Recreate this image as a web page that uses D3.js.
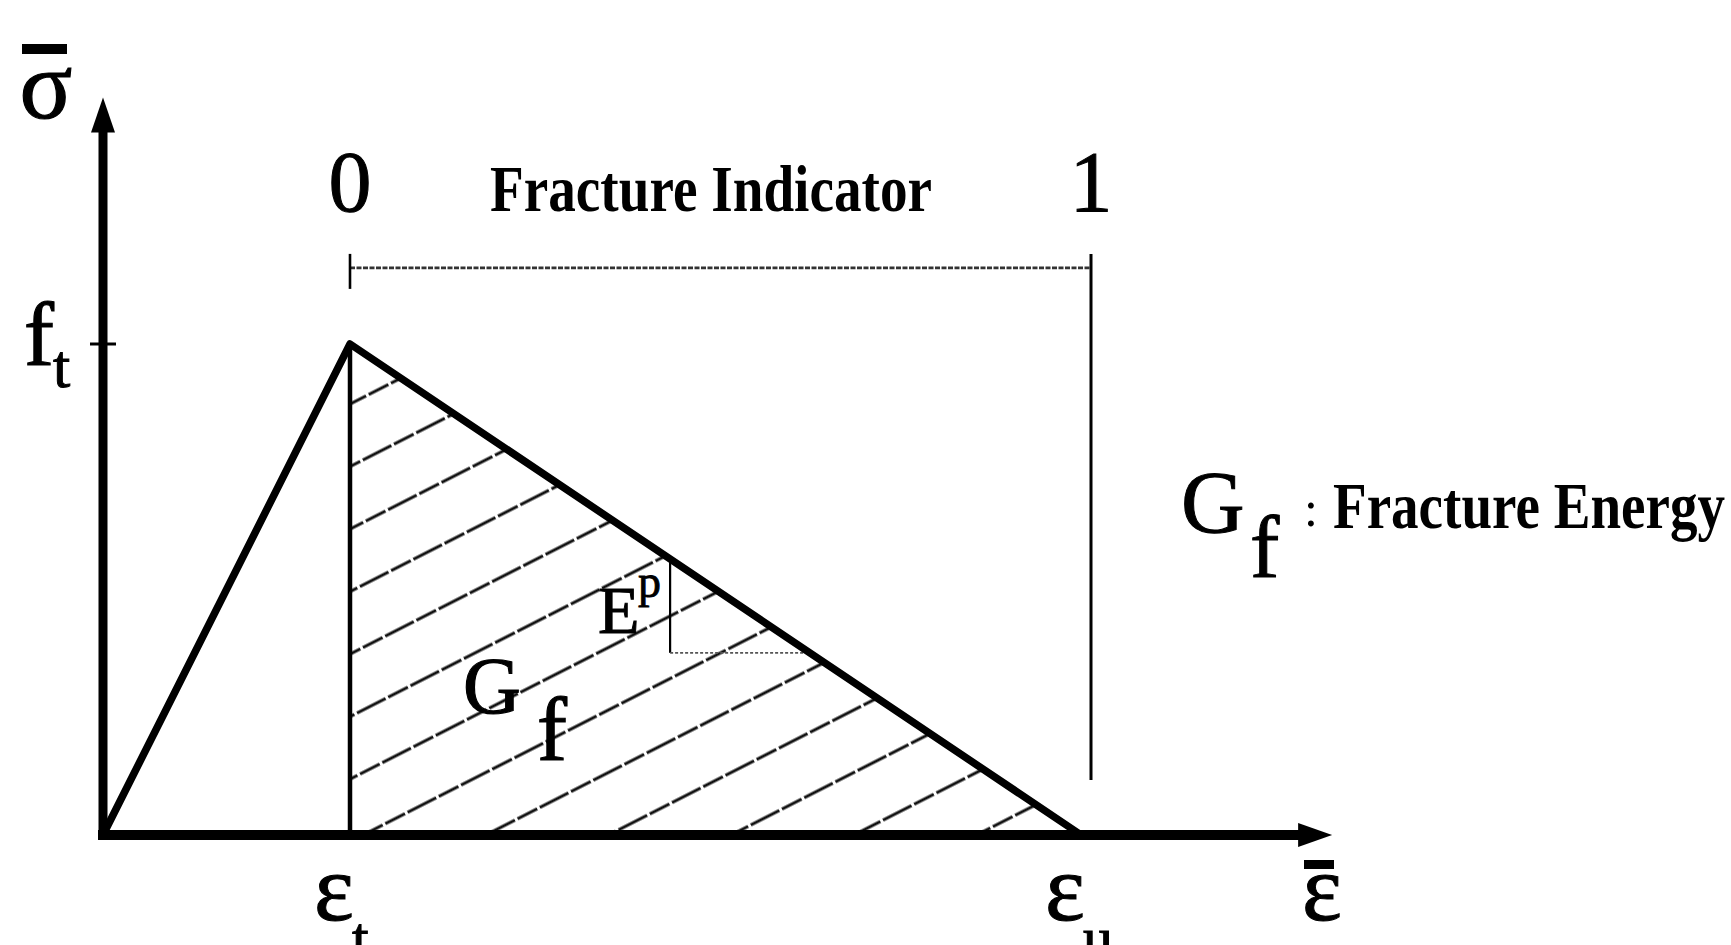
<!DOCTYPE html>
<html><head><meta charset="utf-8">
<script src="https://cdn.jsdelivr.net/npm/d3@7/dist/d3.min.js"></script>
<style>
html,body{margin:0;padding:0;background:#fff;}
svg{display:block;}
text{font-family:"Liberation Serif","Times New Roman",serif;fill:#000;}
</style></head>
<body>
<svg id="chart" width="1731" height="945"></svg>
<script>
// ---- data (strain in units of eps_t, stress in units of f_t) ----
const curveStrain = [0, 1, 3.96];       // origin, eps_t, eps_u
const curveStress = [0, 1, 0];          // 0, f_t, 0
const axisMax = [4.96, 1.5];            // x-axis end (strain), y-axis end (stress)
const yTickValues = [1];
const yTickLabels = ["f"];
const yTickSubs = ["t"];
const xTickValues = [1, 3.96];
const xTickLabels = ["ε", "ε"];
const xTickSubs = ["t", "u"];
const indicatorStrain = [1, 4];
const indicatorLabels = ["0", "1"];
const indicatorLevel = [1.155];         // stress level of the bracket
const slopeStrain = [2.296];            // vertical leg of slope marker
const slopeStress = [0.371];            // horizontal leg of slope marker

const svg = d3.select("#chart");
const x = d3.scaleLinear().domain([0, 4]).range([103, 1091]);
const y = d3.scaleLinear().domain([0, 1]).range([835, 344]);

// hatch pattern
const defs = svg.append("defs");
const hp = defs.append("pattern").attr("id","hatch").attr("patternUnits","userSpaceOnUse")
  .attr("width",60).attr("height",55.7)
  .attr("patternTransform",`translate(${x(1.053)},${y(0)}) rotate(-27)`);
[0,55.7].forEach(v=>hp.append("line").attr("x1",0).attr("x2",60).attr("y1",v).attr("y2",v)
  .attr("stroke","#111").attr("stroke-width",2.8).attr("stroke-dasharray","22 3"));

// hatched area (eps_t .. eps_u under softening branch)
const hatchPts = [[curveStrain[1],0],[curveStrain[1],curveStress[1]],[curveStrain[2],0]];
svg.append("path").attr("d", d3.line().x(d=>x(d[0])).y(d=>y(d[1]))(hatchPts)+"Z")
  .attr("fill","url(#hatch)").attr("stroke","none");

// slope marker
const sx = slopeStrain[0], sy = slopeStress[0];
const descY = s => curveStress[1]*(curveStrain[2]-s)/(curveStrain[2]-curveStrain[1]);
const descX = v => curveStrain[2] - v*(curveStrain[2]-curveStrain[1])/curveStress[1];
svg.append("line").attr("x1",x(sx)).attr("x2",x(sx)).attr("y1",y(descY(sx))).attr("y2",y(sy))
  .attr("stroke","#000").attr("stroke-width",2.2);
svg.append("line").attr("x1",x(sx)).attr("x2",x(descX(sy))).attr("y1",y(sy)).attr("y2",y(sy))
  .attr("stroke","#555").attr("stroke-width",1.8).attr("stroke-dasharray","3 2");

// vertical at eps_t
svg.append("line").attr("x1",x(curveStrain[1])).attr("x2",x(curveStrain[1]))
  .attr("y1",y(curveStress[1])).attr("y2",y(0)).attr("stroke","#000").attr("stroke-width",4.5);

// fracture indicator bracket
const bl = indicatorLevel[0];
svg.append("line").attr("x1",x(indicatorStrain[0])).attr("x2",x(indicatorStrain[1]))
  .attr("y1",y(bl)).attr("y2",y(bl)).attr("stroke","#333").attr("stroke-width",2.6)
  .attr("stroke-dasharray","5 1.5");
svg.append("line").attr("x1",x(indicatorStrain[0])).attr("x2",x(indicatorStrain[0]))
  .attr("y1",y(bl)-14).attr("y2",y(bl)+21).attr("stroke","#000").attr("stroke-width",2.6);
svg.append("line").attr("x1",x(indicatorStrain[1])).attr("x2",x(indicatorStrain[1]))
  .attr("y1",y(bl)-14).attr("y2",y(0.112)).attr("stroke","#000").attr("stroke-width",3);
indicatorLabels.forEach((t,i)=>svg.append("text").attr("x",x(indicatorStrain[i])).attr("y",211)
  .attr("text-anchor","middle").attr("font-size",86).attr("stroke","#000").attr("stroke-width",1).text(t));
svg.append("text").attr("x",490).attr("y",211).attr("font-size",66).attr("font-weight","bold")
  .attr("textLength",442).attr("lengthAdjust","spacingAndGlyphs").text("Fracture Indicator");

// axes
svg.append("line").attr("x1",x(0)).attr("x2",x(0)).attr("y1",y(0)+5).attr("y2",y(axisMax[1])+25)
  .attr("stroke","#000").attr("stroke-width",9);
svg.append("path").attr("d",`M${x(0)},${y(axisMax[1])-1} L${x(0)-12},${y(axisMax[1])+34} L${x(0)+12},${y(axisMax[1])+34}Z`).attr("fill","#000");
svg.append("line").attr("x1",x(0)-5).attr("x2",x(axisMax[0])-25).attr("y1",y(0)).attr("y2",y(0))
  .attr("stroke","#000").attr("stroke-width",10);
svg.append("path").attr("d",`M${x(axisMax[0])+4},${y(0)} L${x(axisMax[0])-30},${y(0)-12} L${x(axisMax[0])-30},${y(0)+12}Z`).attr("fill","#000");

// y tick f_t
yTickValues.forEach((v,i)=>{
  svg.append("line").attr("x1",x(0)-13).attr("x2",x(0)+13).attr("y1",y(v)).attr("y2",y(v))
    .attr("stroke","#000").attr("stroke-width",3);
  svg.append("text").attr("x",24).attr("y",y(v)+21).attr("font-size",90).attr("stroke","#000").attr("stroke-width",1.2).text(yTickLabels[i]);
  svg.append("text").attr("x",53).attr("y",y(v)+43).attr("font-size",62).attr("stroke","#000").attr("stroke-width",1).text(yTickSubs[i]);
});

// stress-strain curve
svg.append("path").attr("d", d3.line().x((d,i)=>x(curveStrain[i])).y((d,i)=>y(curveStress[i]))(curveStrain))
  .attr("fill","none").attr("stroke","#000").attr("stroke-width",7.5).attr("stroke-linejoin","round");

// x tick labels
xTickValues.forEach((v,i)=>{
  svg.append("text").attr("x",x(v)-36).attr("y",920).attr("font-size",95).attr("stroke","#000").attr("stroke-width",1).text(xTickLabels[i]);
  svg.append("text").attr("x",x(v)+2).attr("y",958).attr("font-size",60).attr("stroke","#000").attr("stroke-width",1).text(xTickSubs[i]);
});

// axis titles
svg.append("text").attr("x",46).attr("y",118).attr("text-anchor","middle").attr("font-size",98).attr("stroke","#000").attr("stroke-width",1.2).text("σ");
svg.append("rect").attr("x",22).attr("y",44).attr("width",45).attr("height",10).attr("fill","#000");
svg.append("text").attr("x",1302).attr("y",920).attr("font-size",95).attr("stroke","#000").attr("stroke-width",1).text("ε");
svg.append("rect").attr("x",1304).attr("y",860).attr("width",30).attr("height",9).attr("fill","#000");

// G_f and E^p inside
svg.append("text").attr("x",463).attr("y",713).attr("font-size",80).attr("stroke","#000").attr("stroke-width",1.2).text("G");
svg.append("text").attr("x",537).attr("y",760).attr("font-size",90).attr("stroke","#000").attr("stroke-width",1.2).text("f");
svg.append("text").attr("x",598).attr("y",633).attr("font-size",68).attr("stroke","#000").attr("stroke-width",1).text("E");
svg.append("text").attr("x",638).attr("y",597).attr("font-size",46).attr("stroke","#000").attr("stroke-width",0.8).text("p");

// legend note
svg.append("text").attr("x",1181).attr("y",532).attr("font-size",88).attr("stroke","#000").attr("stroke-width",1).text("G");
svg.append("text").attr("x",1250).attr("y",577).attr("font-size",88).attr("stroke","#000").attr("stroke-width",1).text("f");
svg.append("text").attr("x",1304).attr("y",526).attr("font-size",50).text(":");
svg.append("text").attr("x",1333).attr("y",528).attr("font-size",66).attr("font-weight","bold")
  .attr("textLength",392).attr("lengthAdjust","spacingAndGlyphs").text("Fracture Energy");
</script>
</body></html>
